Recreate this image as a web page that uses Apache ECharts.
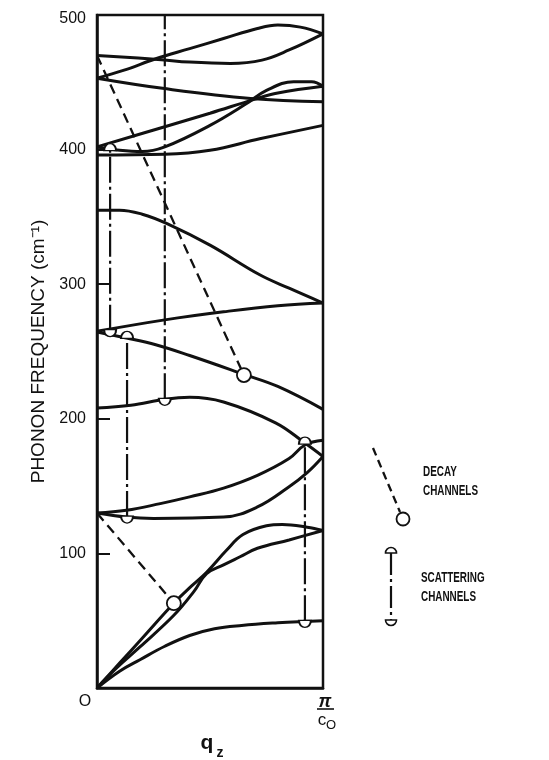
<!DOCTYPE html>
<html>
<head>
<meta charset="utf-8">
<script src="https://cdn.jsdelivr.net/npm/echarts@6/dist/echarts.min.js"></script>
<style>
  html, body { margin: 0; padding: 0; background: #fff; }
  #chart { width: 549px; height: 760px; }
</style>
</head>
<body>
<div id="chart"></div>
<script>
// phonon branches, [q (fraction of pi/c0), frequency cm-1]
var modeU1 = [[0,470],[0.27,467],[0.41,465],[0.59,464],[0.73,466.5],[0.85,474],[1,486]];
var modeU2 = [[0,453],[0.12,459],[0.26,467.5],[0.41,475],[0.56,482.5],[0.71,490],[0.8,492.5],[0.9,491],[1,486]];
var modeU3 = [[0,453],[0.29,445.5],[0.68,438],[1,435.5]];
var modeU4 = [[0,402],[0.3,417],[0.5,427],[0.7,437.5],[0.8,442],[1,447]];
var modeU5 = [[0,402],[0.1,399.5],[0.2,398.5],[0.3,402],[0.5,418],[0.66,434],[0.75,444],[0.87,450.5],[0.95,450.5],[1,447]];
var modeU6 = [[0,396],[0.3,396.5],[0.5,399.5],[0.72,408],[1,418]];
var modeM1 = [[0,355],[0.1,355],[0.2,352],[0.31,345],[0.5,329],[0.72,307],[0.85,297],[1,286]];
var modeM2 = [[0,265],[0.3,273.5],[0.56,279.5],[0.8,284],[1,286]];
var modeM3 = [[0,264.5],[0.13,260],[0.26,255],[0.41,247],[0.65,233],[0.8,224],[1,207]];
var modeM4 = [[0,208],[0.15,210],[0.3,214.5],[0.41,216],[0.56,212.5],[0.79,197],[0.92,182],[1,172]];
var modeM5 = [[0,130],[0.13,132],[0.28,137],[0.41,142],[0.56,148.5],[0.71,158],[0.85,170.5],[0.92,180.5],[1,184]];
var modeM6 = [[0,130],[0.13,127],[0.25,126],[0.56,127],[0.71,134.5],[0.85,149.5],[0.93,160],[1,172]];
var modeLA = [[0,0],[0.1,18.5],[0.2,37],[0.34,63],[0.42,76],[0.485,86],[0.574,102.5],[0.646,114],[0.75,120.5],[0.82,121.5],[0.93,119.5],[1,117]];
var modeLB = [[0,0],[0.087,15],[0.19,30.5],[0.34,54],[0.43,72],[0.485,85],[0.56,91.5],[0.633,97.5],[0.71,103.8],[0.85,110],[1,117]];
var modeTA = [[0,0],[0.1,12.5],[0.19,21],[0.3,31],[0.41,39],[0.52,44],[0.64,46.5],[0.8,48.5],[0.92,49.5],[1,50]];

// decay channels (dashed) and scattering channels (dash-dot)
var decayA = [[0,470],[0.65,232.5]];
var decayB = [[0,130],[0.34,63]];
var scatA = [[0.058,265.5],[0.058,400]];
var scatB = [[0.133,127],[0.133,260.5]];
var scatC = [[0.3,214.5],[0.3,500]];
var scatD = [[0.92,49.5],[0.92,182]];

var decayEnds = [[0.65,232.5],[0.34,63]];
var scatTops = [[0.058,400],[0.133,260.5],[0.92,182]];
var scatBottoms = [[0.058,265.5],[0.133,127],[0.3,214.5],[0.92,49.5]];

var yTicks = [0,100,200,300,400,500];

var FONT = "'Liberation Sans', Arial, sans-serif";
var DOME = 'path://M0,10 C0,-3 20,-3 20,10 Z';
var BOWL = 'path://M0,0 C0,13 20,13 20,0 Z';

var modes = [modeU1,modeU2,modeU3,modeU4,modeU5,modeU6,modeM1,modeM2,modeM3,modeM4,modeM5,modeM6,modeLA,modeLB,modeTA];
var series = [];
modes.forEach(function(m) {
    series.push({
        type: 'line', data: m, smooth: 0.4, showSymbol: false, symbol: 'none',
        lineStyle: { color: '#111', width: 3 }, z: 2, silent: true
    });
});
[decayA, decayB].forEach(function(d) {
    series.push({
        type: 'line', data: d, showSymbol: false, symbol: 'none',
        lineStyle: { color: '#111', width: 2.3, type: [10, 6] }, z: 3, silent: true
    });
});
[scatA, scatB, scatC, scatD].forEach(function(s) {
    series.push({
        type: 'line', data: s, showSymbol: false, symbol: 'none',
        lineStyle: { color: '#111', width: 2.2, type: [26, 4, 3, 4] }, z: 3, silent: true
    });
});
series.push({
    type: 'scatter', data: decayEnds, symbol: 'circle', symbolSize: 14, z: 5,
    itemStyle: { color: '#fff', borderColor: '#111', borderWidth: 1.8, opacity: 1 }
});
series.push({
    type: 'scatter', data: scatTops, symbol: DOME, symbolSize: [12, 7], symbolOffset: [0, -2.5], z: 5,
    itemStyle: { color: '#fff', borderColor: '#111', borderWidth: 1.6, opacity: 1 }
});
series.push({
    type: 'scatter', data: scatBottoms, symbol: BOWL, symbolSize: [12, 7], symbolOffset: [0, 2.5], z: 5,
    itemStyle: { color: '#fff', borderColor: '#111', borderWidth: 1.6, opacity: 1 }
});

var myChart = echarts.init(document.getElementById('chart'));
myChart.setOption({
    animation: false,
    backgroundColor: '#fff',
    grid: { left: 97, right: 226, top: 15, bottom: 72, show: true, borderColor: '#111', borderWidth: 2.5 },
    xAxis: {
        type: 'value', min: 0, max: 1,
        axisLine: { lineStyle: { color: '#111', width: 2.5 } },
        axisTick: { show: false }, axisLabel: { show: false }, splitLine: { show: false }
    },
    yAxis: {
        type: 'value', min: 0, max: 500, interval: 100,
        name: 'PHONON FREQUENCY (cm\u207B\u00B9)',
        nameLocation: 'middle', nameGap: 49,
        nameTextStyle: { fontFamily: FONT, fontSize: 19, color: '#111' },
        axisLine: { lineStyle: { color: '#111', width: 2.5 } },
        axisTick: { inside: true, length: 13, lineStyle: { color: '#111', width: 2 } },
        axisLabel: {
            fontFamily: FONT, fontSize: 16, color: '#111', margin: 11,
            formatter: function(v) { return yTicks.indexOf(v) > 0 ? (v === 500 ? '{top|500}' : String(v)) : ''; },
            rich: { top: { fontFamily: FONT, fontSize: 16, color: '#111', padding: [8, 0, 0, 0] } }
        },
        splitLine: { show: false }
    },
    graphic: [
        { type: 'text', x: 85, y: 702, style: { text: 'O', font: '16px ' + FONT, fill: '#111', align: 'center', verticalAlign: 'middle' } },
        { type: 'text', x: 325, y: 702, style: { text: '\u03C0', font: 'bold italic 18px ' + FONT, fill: '#111', align: 'center', verticalAlign: 'middle' } },
        { type: 'line', shape: { x1: 317, y1: 709, x2: 334, y2: 709 }, style: { stroke: '#111', lineWidth: 1.6 } },
        { type: 'text', x: 322, y: 720, style: { text: 'c', font: '17px ' + FONT, fill: '#111', align: 'center', verticalAlign: 'middle' } },
        { type: 'text', x: 331, y: 725, style: { text: 'O', font: '13px ' + FONT, fill: '#111', align: 'center', verticalAlign: 'middle' } },
        { type: 'text', x: 207, y: 743, style: { text: 'q', font: 'bold 21px ' + FONT, fill: '#111', align: 'center', verticalAlign: 'middle' } },
        { type: 'text', x: 220, y: 753, style: { text: 'z', font: 'bold 14px ' + FONT, fill: '#111', align: 'center', verticalAlign: 'middle' } },

        // legend: decay
        { type: 'line', shape: { x1: 373, y1: 448, x2: 400, y2: 512 }, style: { stroke: '#111', lineWidth: 2.3, lineDash: [8, 5] } },
        { type: 'circle', shape: { cx: 403, cy: 519, r: 6.5 }, style: { fill: '#fff', stroke: '#111', lineWidth: 1.8 } },
        { type: 'text', x: 423, y: 472, scaleX: 0.66, style: { text: 'DECAY', font: 'bold 15px ' + FONT, fill: '#111', verticalAlign: 'middle' } },
        { type: 'text', x: 423, y: 491, scaleX: 0.66, style: { text: 'CHANNELS', font: 'bold 15px ' + FONT, fill: '#111', verticalAlign: 'middle' } },
        // legend: scattering
        { type: 'line', shape: { x1: 391, y1: 553, x2: 391, y2: 620 }, style: { stroke: '#111', lineWidth: 2.2, lineDash: [22, 4, 3, 4] } },
        { type: 'sector', shape: { cx: 391, cy: 553, r0: 0, r: 5.5, startAngle: Math.PI, endAngle: Math.PI * 2 }, style: { fill: '#fff', stroke: '#111', lineWidth: 1.6 } },
        { type: 'sector', shape: { cx: 391, cy: 620, r0: 0, r: 5.5, startAngle: 0, endAngle: Math.PI }, style: { fill: '#fff', stroke: '#111', lineWidth: 1.6 } },
        { type: 'text', x: 421, y: 578, scaleX: 0.66, style: { text: 'SCATTERING', font: 'bold 15px ' + FONT, fill: '#111', verticalAlign: 'middle' } },
        { type: 'text', x: 421, y: 597, scaleX: 0.66, style: { text: 'CHANNELS', font: 'bold 15px ' + FONT, fill: '#111', verticalAlign: 'middle' } }
    ],
    series: series
});

window.onresize = function() {
    myChart.resize();
};
</script>
</body>
</html>
